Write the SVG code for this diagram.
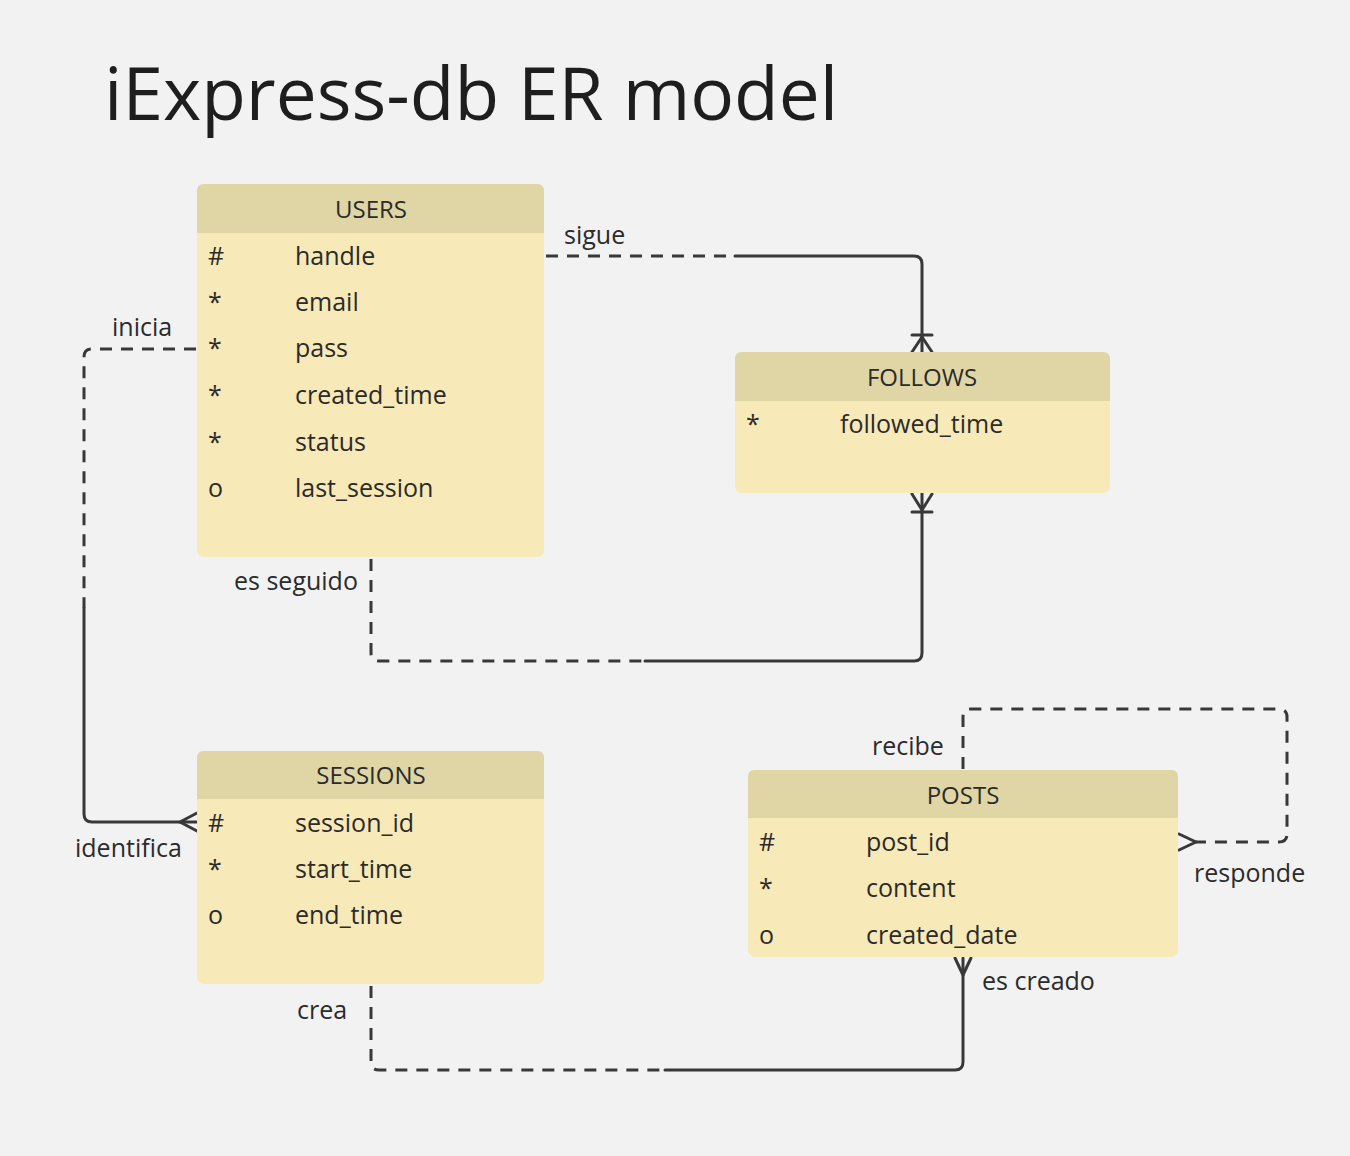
<svg xmlns="http://www.w3.org/2000/svg" width="1350" height="1156" viewBox="0 0 1350 1156">
<style>
text{font-family:"Open Sans","Liberation Sans",sans-serif;fill:#2b2b2b}
.title{font-size:73px;fill:#1e1e1e}
.hd{font-size:24px;text-anchor:middle}
.at{font-size:25px}
.lb{font-size:25px}
.body{fill:#f7e9b8}
.head{fill:#dfd5a5}
.c{fill:none;stroke:#383838;stroke-width:3;stroke-linecap:round;stroke-linejoin:round}
.d{stroke-dasharray:12 9;stroke-linecap:butt}
</style>
<rect width="1350" height="1156" fill="#f2f2f2"/>
<text class="title" x="104" y="120">iExpress-db ER model</text>

<g id="connectors">
  <!-- sigue -->
  <path class="c d" d="M546 256 H735"/>
  <path class="c" d="M735 256 H914 Q922 256 922 264 V352"/>
  <path class="c" d="M912 335 H932 M922 337 L912 352 M922 337 L932 352"/>
  <!-- es seguido -->
  <path class="c d" d="M371 559 V653 Q371 661 379 661 H645"/>
  <path class="c" d="M645 661 H914 Q922 661 922 653 V493"/>
  <path class="c" d="M912 512 H932 M922 510 L912 494 M922 510 L932 494"/>
  <!-- inicia / identifica -->
  <path class="c d" d="M196 349 H92 Q84 349 84 357 V608"/>
  <path class="c" d="M84 608 V814 Q84 822 92 822 H197"/>
  <path class="c" d="M180 822 L197 813 M180 822 L197 831"/>
  <!-- crea / es creado -->
  <path class="c d" d="M371 986 V1062 Q371 1070 379 1070 H665"/>
  <path class="c" d="M665 1070 H955 Q963 1070 963 1062 V958"/>
  <path class="c" d="M963 975 L955 958 M963 975 L971 958"/>
  <!-- recibe / responde -->
  <path class="c d" d="M963 769 V717 Q963 709 971 709 H1279 Q1287 709 1287 717 V834 Q1287 842 1279 842 H1196"/>
  <path class="c" d="M1196 842 L1179 834 M1196 842 L1179 850"/>
</g>

<g id="users">
  <rect class="body" x="197" y="184" width="347" height="373" rx="7"/>
  <path class="head" d="M197 233 V191 Q197 184 204 184 H537 Q544 184 544 191 V233 Z"/>
  <text class="hd" x="371" y="218">USERS</text>
  <text class="at" x="208" y="265">#</text><text class="at" x="295" y="265">handle</text>
  <text class="at" x="208" y="311">*</text><text class="at" x="295" y="311">email</text>
  <text class="at" x="208" y="357">*</text><text class="at" x="295" y="357">pass</text>
  <text class="at" x="208" y="404">*</text><text class="at" x="295" y="404">created_time</text>
  <text class="at" x="208" y="451">*</text><text class="at" x="295" y="451">status</text>
  <text class="at" x="208" y="497">o</text><text class="at" x="295" y="497">last_session</text>
</g>

<g id="follows">
  <rect class="body" x="735" y="352" width="375" height="141" rx="7"/>
  <path class="head" d="M735 401 V359 Q735 352 742 352 H1103 Q1110 352 1110 359 V401 Z"/>
  <text class="hd" x="922" y="386">FOLLOWS</text>
  <text class="at" x="746" y="433">*</text><text class="at" x="840" y="433">followed_time</text>
</g>

<g id="sessions">
  <rect class="body" x="197" y="751" width="347" height="233" rx="7"/>
  <path class="head" d="M197 799 V758 Q197 751 204 751 H537 Q544 751 544 758 V799 Z"/>
  <text class="hd" x="371" y="784">SESSIONS</text>
  <text class="at" x="208" y="832">#</text><text class="at" x="295" y="832">session_id</text>
  <text class="at" x="208" y="878">*</text><text class="at" x="295" y="878">start_time</text>
  <text class="at" x="208" y="924">o</text><text class="at" x="295" y="924">end_time</text>
</g>

<g id="posts">
  <rect class="body" x="748" y="770" width="430" height="187" rx="7"/>
  <path class="head" d="M748 818 V777 Q748 770 755 770 H1171 Q1178 770 1178 777 V818 Z"/>
  <text class="hd" x="963" y="804">POSTS</text>
  <text class="at" x="759" y="851">#</text><text class="at" x="866" y="851">post_id</text>
  <text class="at" x="759" y="897">*</text><text class="at" x="866" y="897">content</text>
  <text class="at" x="759" y="944">o</text><text class="at" x="866" y="944">created_date</text>
</g>

<g id="labels">
  <text class="lb" x="564" y="244">sigue</text>
  <text class="lb" x="112" y="336">inicia</text>
  <text class="lb" x="234" y="590">es seguido</text>
  <text class="lb" x="75" y="857">identifica</text>
  <text class="lb" x="297" y="1019">crea</text>
  <text class="lb" x="872" y="755">recibe</text>
  <text class="lb" x="1194" y="882">responde</text>
  <text class="lb" x="982" y="990">es creado</text>
</g>
</svg>
